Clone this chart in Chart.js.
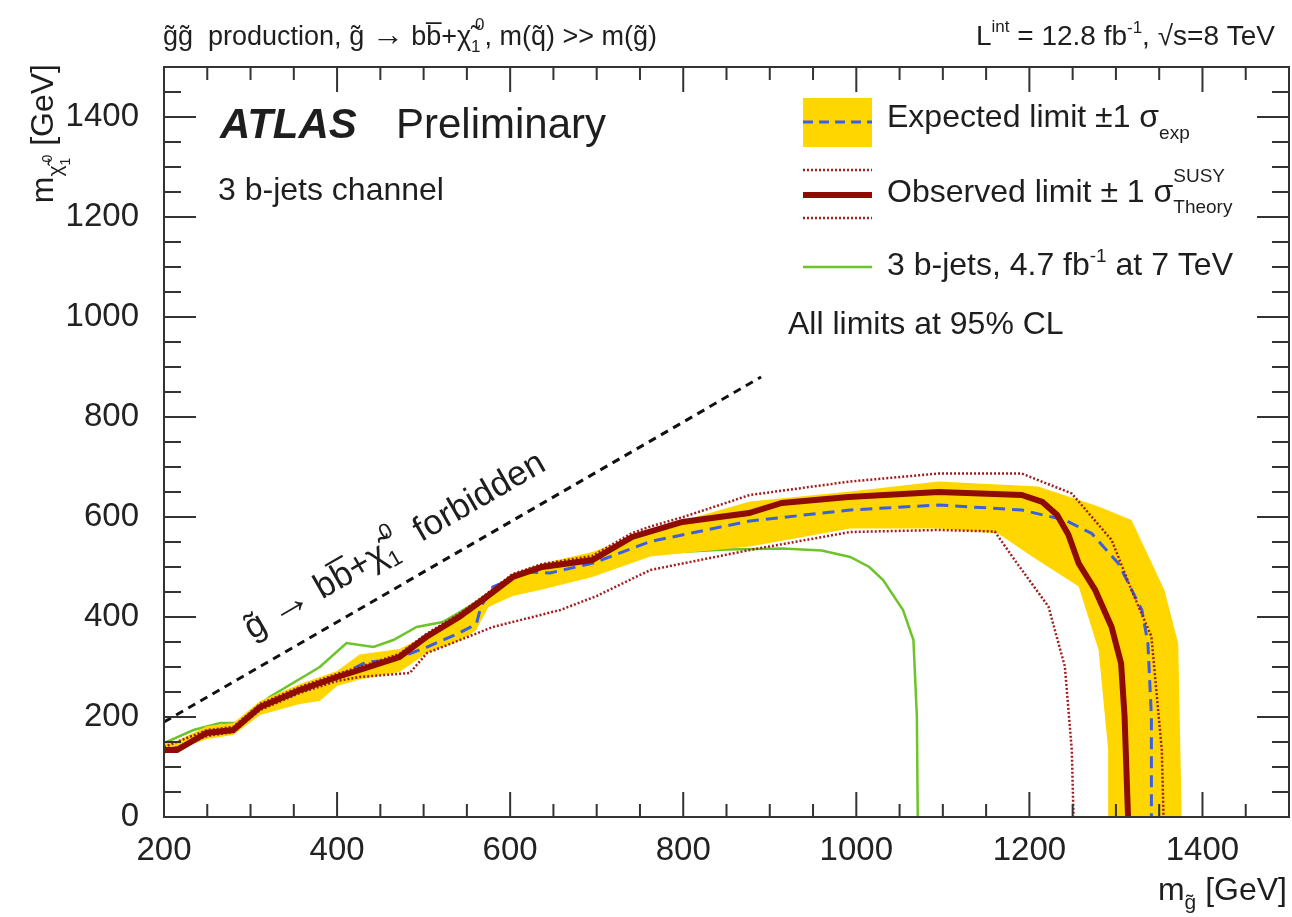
<!DOCTYPE html>
<html>
<head>
<meta charset="utf-8">
<script src="https://cdn.jsdelivr.net/npm/chart.js@4.4.0/dist/chart.umd.min.js"></script>
<style>html,body{margin:0;background:#fff}</style>
</head>
<body>
<canvas id="c" width="1292" height="917"></canvas>
<script>
// values: [m(gluino), m(neutralino)] in GeV
const xTickValues = [200, 400, 600, 800, 1000, 1200, 1400];
const yTickValues = [0, 200, 400, 600, 800, 1000, 1200, 1400];

const observed = [[200,134],[215,134],[249,168],[280,174],[311,220],[357,254],[400,280],[426,294],[472,320],[503,360],[541,400],[568,434],[603,480],[637,500],[695,514],[741,560],[799,590],[876,608],[914,628],[991,640],[1095,650],[1191,644],[1215,630],[1232,604],[1245,565],[1257,507],[1276,454],[1295,380],[1306,307],[1310,201],[1314,0]];
const observedUp = [[200,140],[250,174],[280,180],[311,226],[357,260],[400,286],[426,300],[472,326],[503,366],[541,406],[568,440],[603,486],[637,506],[695,522],[741,568],[762,581],[800,600],[877,644],[993,671],[1095,687],[1191,687],[1249,647],[1295,554],[1318,454],[1341,361],[1353,134],[1355,0]];
const observedDown = [[200,130],[250,162],[280,170],[311,214],[357,248],[400,272],[426,280],[484,288],[504,328],[542,354],[580,380],[658,414],[700,442],[762,494],[877,534],[993,570],[1095,574],[1160,571],[1183,514],[1222,421],[1241,301],[1249,134],[1251,0]];
const expected = [[200,136],[215,138],[250,166],[280,176],[311,218],[357,250],[400,278],[411,290],[434,310],[465,314],[504,340],[541,368],[561,386],[566,420],[580,460],[619,490],[646,488],[696,508],[762,551],[877,592],[993,614],[1095,624],[1191,614],[1241,594],[1272,567],[1303,507],[1330,414],[1337,347],[1341,201],[1341,0]];
const bandUpper = [[200,150],[215,152],[250,182],[280,188],[311,232],[357,266],[400,292],[426,325],[472,336],[504,364],[541,408],[568,442],[603,487],[637,507],[695,530],[762,574],[877,631],[993,651],[1095,671],[1210,661],[1280,621],[1318,594],[1356,454],[1372,347],[1376,0]];
const bandLower = [[200,126],[250,156],[280,164],[311,204],[357,226],[380,232],[400,262],[426,275],[472,290],[504,328],[541,352],[560,372],[575,420],[603,442],[637,455],[695,480],[762,521],[877,541],[993,577],[1095,577],[1164,567],[1203,521],[1257,461],[1280,334],[1291,134],[1291,0]];
const green7TeV = [[200,148],[234,174],[265,188],[284,188],[322,240],[380,300],[411,348],[442,340],[465,354],[492,380],[522,390],[540,408],[570,440],[600,462],[650,490],[700,510],[762,527],[850,535],[915,537],[960,533],[993,520],[1015,500],[1031,474],[1054,414],[1066,354],[1070,200],[1071,0]];
const kinLimit = [[200,190],[890,880]];

const FONT = '"Liberation Sans", Arial, Helvetica, sans-serif';
const GOLD = 'rgb(255,214,0)';
const DARKRED = 'rgb(142,12,4)';
const DOTRED = 'rgb(160,30,30)';
const BLUE = 'rgb(60,95,225)';
const GREEN = 'rgb(108,196,40)';

const toXY = arr => arr.map(p => ({x: p[0], y: p[1]}));

// draws a run of text pieces: [text, size, dy, {stack, bold, italic}]
function rich(ctx, x, y, parts, align) {
    const setF = p => {
        const o = p[3] || {};
        ctx.font = (o.italic ? 'italic ' : '') + (o.bold ? 'bold ' : '') + p[1] + 'px ' + FONT;
    };
    let w = 0, hold = 0;
    for (const p of parts) {
        setF(p);
        const pw = ctx.measureText(p[0]).width;
        if (p[3] && p[3].stack) hold = Math.max(hold, pw);
        else { w += Math.max(pw, hold); hold = 0; }
    }
    let cx = align === 'right' ? x - w : x;
    hold = 0;
    ctx.textAlign = 'left';
    ctx.textBaseline = 'alphabetic';
    for (const p of parts) {
        setF(p);
        const pw = ctx.measureText(p[0]).width;
        const dx = (p[3] && p[3].dx) || 0;
        ctx.fillText(p[0], cx + dx, y + p[2]);
        if (p[3] && p[3].stack) hold = Math.max(hold, pw);
        else { cx += Math.max(pw + dx, hold); hold = 0; }
    }
}

function seg(ctx, x1, y1, x2, y2, color, width, dash) {
    ctx.save();
    ctx.strokeStyle = color;
    ctx.lineWidth = width;
    ctx.setLineDash(dash || []);
    ctx.beginPath();
    ctx.moveTo(x1, y1);
    ctx.lineTo(x2, y2);
    ctx.stroke();
    ctx.restore();
}

// ROOT style frame with inner ticks on all sides
const framePlugin = {
    id: 'frame',
    afterDatasetsDraw(chart) {
        const ctx = chart.ctx, a = chart.chartArea;
        const xs = chart.scales.x, ys = chart.scales.y;
        ctx.save();
        ctx.strokeStyle = '#333';
        ctx.lineWidth = 2;
        ctx.strokeRect(a.left, a.top, a.right - a.left, a.bottom - a.top);
        ctx.beginPath();
        for (let v = 200; v <= 1500; v += 50) {
            const px = xs.getPixelForValue(v);
            const len = v % 200 === 0 ? 25 : 13;
            ctx.moveTo(px, a.bottom); ctx.lineTo(px, a.bottom - len);
            ctx.moveTo(px, a.top); ctx.lineTo(px, a.top + len);
        }
        for (let v = 0; v <= 1500; v += 50) {
            const py = ys.getPixelForValue(v);
            const len = v % 200 === 0 ? 32 : 17;
            ctx.moveTo(a.left, py); ctx.lineTo(a.left + len, py);
            ctx.moveTo(a.right, py); ctx.lineTo(a.right - len, py);
        }
        ctx.stroke();
        ctx.restore();
    }
};

const textPlugin = {
    id: 'texts',
    afterDraw(chart) {
        const c = chart.ctx;
        const xs = chart.scales.x, ys = chart.scales.y;
        c.save();
        c.fillStyle = '#1e1e1e';
        rich(c, 163, 45, [['g\u0303g\u0303  production, g\u0303 ', 27, 0], ['\u2192', 32, 0], [' bb\u0305+\u03c7\u0303', 27, 0],
            ['1', 17, 7, {stack: true}], ['0', 17, -15, {dx: 4}], [', m(q\u0303) >> m(g\u0303)', 27, 0]]);
        rich(c, 1275, 45, [['L', 28, 0], ['int', 17, -13], [' = 12.8 fb', 28, 0], ['-1', 17, -12], [', \u221as=8 TeV', 28, 0]], 'right');

        rich(c, 220, 138, [['ATLAS', 42, 0, {bold: true, italic: true}]]);
        rich(c, 396, 138, [['Preliminary', 42, 0]]);
        rich(c, 218, 200, [['3 b-jets channel', 32, 0]]);

        // legend
        c.fillStyle = GOLD;
        c.fillRect(803, 98, 69, 49);
        seg(c, 803, 122, 872, 122, BLUE, 3, [10, 6]);
        seg(c, 803, 170, 872, 170, DOTRED, 2.5, [2, 2]);
        seg(c, 803, 195, 872, 195, DARKRED, 6);
        seg(c, 803, 218, 872, 218, DOTRED, 2.5, [2, 2]);
        seg(c, 803, 267, 872, 267, GREEN, 2.5);
        c.fillStyle = '#1e1e1e';
        rich(c, 887, 127, [['Expected limit \u00b11 \u03c3', 32, 0], ['exp', 19, 12]]);
        rich(c, 887, 202, [['Observed limit \u00b1 1 \u03c3', 32, 0], ['Theory', 19, 11, {stack: true}], ['SUSY', 19, -20]]);
        rich(c, 887, 275, [['3 b-jets, 4.7 fb', 32, 0], ['-1', 19, -13], [' at 7 TeV', 32, 0]]);
        rich(c, 788, 334, [['All limits at 95% CL', 32, 0]]);

        // kinematic limit label, rotated along the dashed line
        const ang = Math.atan2(ys.getPixelForValue(kinLimit[1][1]) - ys.getPixelForValue(kinLimit[0][1]),
                               xs.getPixelForValue(kinLimit[1][0]) - xs.getPixelForValue(kinLimit[0][0]));
        c.save();
        c.translate(252, 640);
        c.rotate(ang);
        rich(c, 0, 0, [['g\u0303 ', 35, 0], ['\u2192', 42, 0], [' bb\u0305+\u03c7\u0303', 35, 0],
            ['1', 22, 8, {stack: true}], ['0', 22, -20, {dx: 5}], ['  forbidden', 35, 0]]);
        c.restore();

        // axis titles
        rich(c, 1287, 900, [['m', 32, 0], ['g\u0303', 21, 9], [' [GeV]', 32, 0]], 'right');
        c.save();
        c.translate(53, 67);
        c.rotate(-Math.PI / 2);
        rich(c, 0, 0, [['m', 32, 0], ['\u03c7\u0303', 21, 9], ['1', 14, 17, {stack: true}], ['0', 14, -1, {dx: 3}], [' [GeV]', 32, 0]], 'right');
        c.restore();
        c.restore();
    }
};

const line = (data, color, width, dash, order) => ({
    data: toXY(data), borderColor: color, borderWidth: width, borderDash: dash || [],
    pointRadius: 0, fill: false, tension: 0, order: order
});

const bandPolygon = bandUpper.concat(bandLower.slice().reverse());

new Chart(document.getElementById('c'), {
    type: 'line',
    data: {
        datasets: [
            line(kinLimit, '#111', 3, [8, 6], 0),
            line(observed, DARKRED, 6, null, 1),
            line(observedUp, DOTRED, 2.5, [2, 2], 2),
            line(observedDown, DOTRED, 2.5, [2, 2], 2),
            line(expected, BLUE, 3, [12, 7], 3),
            {data: toXY(bandPolygon), borderColor: 'rgba(0,0,0,0)', borderWidth: 0,
             backgroundColor: GOLD, fill: 'shape', pointRadius: 0, tension: 0, order: 4},
            line(green7TeV, GREEN, 2.5, null, 5)
        ]
    },
    options: {
        responsive: false,
        devicePixelRatio: 1,
        animation: false,
        events: [],
        layout: {padding: {left: 0, right: 3, top: 67, bottom: 0}},
        plugins: {legend: {display: false}, tooltip: {enabled: false}},
        scales: {
            x: {
                type: 'linear', min: 200, max: 1500,
                afterFit: s => { s.height = 100; },
                afterBuildTicks: s => { s.ticks = xTickValues.map(v => ({value: v})); },
                grid: {display: false},
                border: {display: false},
                ticks: {font: {family: FONT, size: 33}, color: '#222', padding: 6, maxRotation: 0, autoSkip: false,
                        callback: v => String(v)}
            },
            y: {
                type: 'linear', min: 0, max: 1500,
                afterFit: s => { s.width = 164; },
                afterBuildTicks: s => { s.ticks = yTickValues.map(v => ({value: v})); },
                grid: {display: false},
                border: {display: false},
                ticks: {font: {family: FONT, size: 33}, color: '#222', padding: 17, autoSkip: false,
                        callback: v => String(v)}
            }
        }
    },
    plugins: [framePlugin, textPlugin]
});
</script>
</body>
</html>
